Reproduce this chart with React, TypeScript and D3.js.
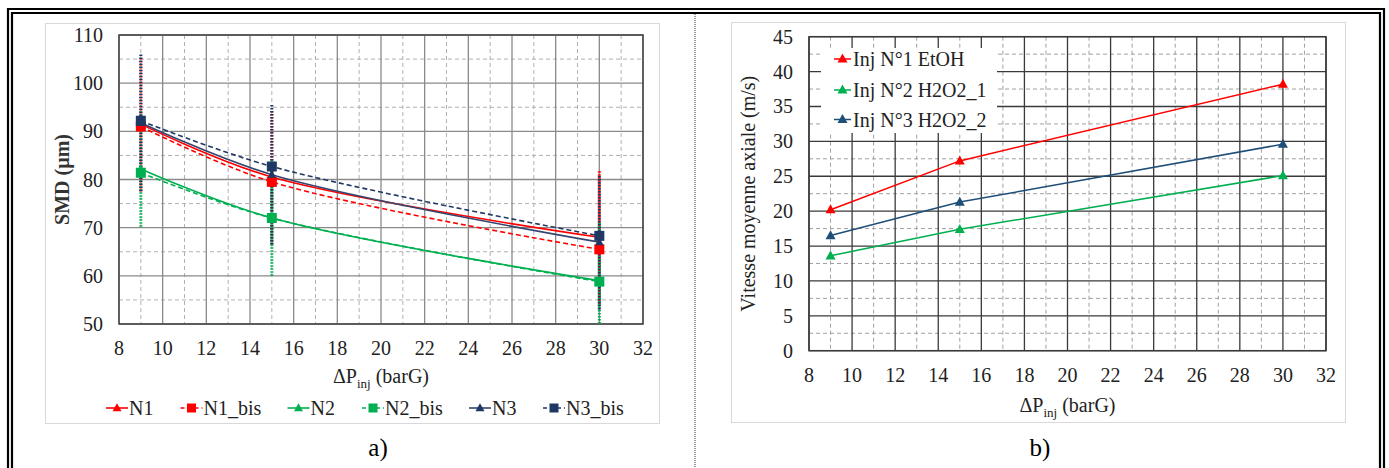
import React from "react";
import * as d3 from "d3";

// ---------- data ----------
const pressures = [9, 15, 30];
const xTicks = [8, 10, 12, 14, 16, 18, 20, 22, 24, 26, 28, 30, 32];
const xMinor = [9, 11, 13, 15, 17, 19, 21, 23, 25, 27, 29, 31];

// left chart (SMD)
const smdTicks = [50, 60, 70, 80, 90, 100, 110];
const smdMinor = [55, 65, 75, 85, 95, 105];
const n1 = [91.5, 80.5, 68.0];
const n1Bis = [91.0, 79.5, 65.5];
const n2 = [82.2, 72.0, 59.0];
const n2Bis = [81.4, 72.0, 58.8];
const n3 = [91.8, 81.0, 67.0];
const n3Bis = [92.2, 82.7, 68.3];
const n1Err = [14, 14, 14];
const n2Err = [12, 12, 12];
const n3Err = [14.2, 14.5, 14];

// right chart (velocity)
const velTicks = [0, 5, 10, 15, 20, 25, 30, 35, 40, 45];
const velMinor = [2.5, 7.5, 12.5, 17.5, 22.5, 27.5, 32.5, 37.5, 42.5];
const injEtOH = [20.2, 27.2, 38.2];
const injH2O2a = [13.6, 17.4, 25.1];
const injH2O2b = [16.5, 21.3, 29.6];

const RED = "#ff0000";
const GREEN = "#00b050";
const NAVY = "#1f3864";
const NAVY_LINE = "#34456f";
const BLUE = "#1f4e79";

const FONT = '"Liberation Serif", "DejaVu Serif", serif';
const TS: React.CSSProperties = { fontFamily: FONT };
const FS = 20;

type Series = {
  name: string;
  values: number[];
  color: string;
  lineColor?: string;
  dashed: boolean;
  marker: "tri" | "sq";
  err?: number[];
};

const leftSeries: Series[] = [
  { name: "N1", values: n1, color: RED, dashed: false, marker: "tri", err: n1Err },
  { name: "N1_bis", values: n1Bis, color: RED, dashed: true, marker: "sq" },
  { name: "N2", values: n2, color: GREEN, dashed: false, marker: "tri", err: n2Err },
  { name: "N2_bis", values: n2Bis, color: GREEN, dashed: true, marker: "sq" },
  { name: "N3", values: n3, color: NAVY, lineColor: NAVY_LINE, dashed: false, marker: "tri", err: n3Err },
  { name: "N3_bis", values: n3Bis, color: NAVY, dashed: true, marker: "sq" },
];

const rightSeries: Series[] = [
  { name: "Inj N°1 EtOH", values: injEtOH, color: RED, dashed: false, marker: "tri" },
  { name: "Inj N°2 H2O2_1", values: injH2O2a, color: GREEN, dashed: false, marker: "tri" },
  { name: "Inj N°3 H2O2_2", values: injH2O2b, color: BLUE, dashed: false, marker: "tri" },
];

function Marker({ x, y, kind, color, size }: { x: number; y: number; kind: string; color: string; size: number }) {
  if (kind === "sq") {
    return <rect x={x - size / 2} y={y - size / 2} width={size} height={size} fill={color} />;
  }
  const h = size * 0.9;
  return (
    <path
      d={`M${x},${y - h * 0.6} L${x + size / 2},${y + h * 0.4} L${x - size / 2},${y + h * 0.4} Z`}
      fill={color}
    />
  );
}

function XTitle({ x, y }: { x: number; y: number }) {
  return (
    <text x={x} y={y} textAnchor="middle" style={TS} fontSize={FS} fill="#222">
      ΔP
      <tspan fontSize={13} dy={5}>inj</tspan>
      <tspan dy={-5}> (barG)</tspan>
    </text>
  );
}

export default function App() {
  // ---------- left chart ----------
  const L = { left: 119, right: 643, top: 35, bottom: 324 };
  const lx = d3.scaleLinear().domain([8, 32]).range([L.left, L.right]);
  const ly = d3.scaleLinear().domain([50, 110]).range([L.bottom, L.top]);
  const smooth = d3
    .line<number>()
    .x((_, i) => lx(pressures[i]))
    .y((v) => ly(v))
    .curve(d3.curveCatmullRom.alpha(0.5));

  // ---------- right chart ----------
  const R = { left: 809, right: 1326, top: 36.7, bottom: 350.7 };
  const rx = d3.scaleLinear().domain([8, 32]).range([R.left, R.right]);
  const ry = d3.scaleLinear().domain([0, 45]).range([R.bottom, R.top]);
  const straight = d3
    .line<number>()
    .x((_, i) => rx(pressures[i]))
    .y((v) => ry(v));

  const legendLeftX = [117, 191.5, 298.5, 373, 480, 554];
  const legendRightY = [59, 90, 119.5];

  return (
    <svg
      width={1389}
      height={468}
      style={{ position: "absolute", left: 0, top: 0, background: "#fff", fontFamily: FONT }}
    >
      <defs>
        <clipPath id="clipL">
          <rect x={L.left} y={L.top} width={L.right - L.left} height={L.bottom - L.top} />
        </clipPath>
      </defs>
      <rect x={0} y={0} width={1389} height={468} fill="#fff" />

      {/* outer double frame */}
      <path d="M8,480 L8,9 L1384,9 L1384,480" fill="none" stroke="#000" strokeWidth={2.2} />
      <path d="M12,480 L12,13 L1380,13 L1380,480" fill="none" stroke="#000" strokeWidth={2.2} />
      <line x1={695} y1={14} x2={695} y2={468} stroke="#333" strokeWidth={1} strokeDasharray="1 1" />

      {/* chart area borders */}
      <rect x={45.5} y={23.5} width={614} height={400} fill="none" stroke="#d9d9d9" strokeWidth={1} />
      <rect x={731.5} y={22.5} width={614} height={400} fill="none" stroke="#d9d9d9" strokeWidth={1} />

      {/* ===== LEFT CHART ===== */}
      <g>
        {xMinor.map((t) => (
          <line key={"lxm" + t} x1={lx(t)} x2={lx(t)} y1={L.top} y2={L.bottom} stroke="#b0b0b0" strokeWidth={1} strokeDasharray="4 3" />
        ))}
        {smdMinor.map((t) => (
          <line key={"lym" + t} x1={L.left} x2={L.right} y1={ly(t)} y2={ly(t)} stroke="#b0b0b0" strokeWidth={1} strokeDasharray="4 3" />
        ))}
        {xTicks.map((t) => (
          <line key={"lx" + t} x1={lx(t)} x2={lx(t)} y1={L.top} y2={L.bottom} stroke="#8a8a8a" strokeWidth={1.3} />
        ))}
        {smdTicks.map((t) => (
          <line key={"ly" + t} x1={L.left} x2={L.right} y1={ly(t)} y2={ly(t)} stroke="#8a8a8a" strokeWidth={1.3} />
        ))}
        <rect x={L.left} y={L.top} width={L.right - L.left} height={L.bottom - L.top} fill="none" stroke="#444" strokeWidth={1.5} />

        {/* error bars */}
        <g clipPath="url(#clipL)">
          {leftSeries.map((s) =>
            s.err
              ? s.values.map((v, i) => (
                  <line
                    key={s.name + "e" + i}
                    x1={lx(pressures[i])}
                    x2={lx(pressures[i])}
                    y1={ly(v - s.err![i])}
                    y2={ly(v + s.err![i])}
                    stroke={s.color}
                    strokeWidth={3}
                    strokeDasharray="1.5 1.5"
                  />
                ))
              : null
          )}
        </g>

        {/* lines */}
        {leftSeries.map((s) => (
          <path
            key={s.name + "l"}
            d={smooth(s.values) || ""}
            fill="none"
            stroke={s.lineColor || s.color}
            strokeWidth={1.6}
            strokeDasharray={s.dashed ? "5 3" : undefined}
          />
        ))}
        {/* markers */}
        {leftSeries.map((s) =>
          s.values.map((v, i) => (
            <Marker key={s.name + "m" + i} x={lx(pressures[i])} y={ly(v)} kind={s.marker} color={s.color} size={s.marker === "sq" ? 10 : 8.5} />
          ))
        )}

        {/* axes labels */}
        {smdTicks.map((t) => (
          <text key={"lyl" + t} x={L.left - 16} y={ly(t)} textAnchor="end" dominantBaseline="central" style={TS} fontSize={FS} fill="#222">
            {t}
          </text>
        ))}
        {xTicks.map((t) => (
          <text key={"lxl" + t} x={lx(t)} y={L.bottom + 24} textAnchor="middle" dominantBaseline="central" style={TS} fontSize={FS} fill="#222">
            {t}
          </text>
        ))}
        <text
          transform={`translate(62,${(L.top + L.bottom) / 2}) rotate(-90)`}
          textAnchor="middle"
          dominantBaseline="central"
          style={TS}
          fontSize={FS}
          fontWeight="bold"
          fill="#333"
        >
          SMD (µm)
        </text>
        <XTitle x={(L.left + L.right) / 2} y={L.bottom + 59} />

        {/* legend */}
        {leftSeries.map((s, i) => {
          const cx = legendLeftX[i];
          return (
            <g key={s.name + "lg"}>
              <line x1={cx - 11} x2={cx + 11} y1={408} y2={408} stroke={s.lineColor || s.color} strokeWidth={1.6} strokeDasharray={s.dashed ? "4 3" : undefined} />
              <Marker x={cx} y={408} kind={s.marker} color={s.color} size={9} />
              <text x={cx + 12} y={408} dominantBaseline="central" style={TS} fontSize={FS} fill="#222">
                {s.name}
              </text>
            </g>
          );
        })}
        <text x={378} y={447} textAnchor="middle" dominantBaseline="central" style={TS} fontSize={25} fill="#000">
          a)
        </text>
      </g>

      {/* ===== RIGHT CHART ===== */}
      <g>
        {xMinor.map((t) => (
          <line key={"rxm" + t} x1={rx(t)} x2={rx(t)} y1={R.top} y2={R.bottom} stroke="#a0a0a0" strokeWidth={1} strokeDasharray="4 3" />
        ))}
        {velMinor.map((t) => (
          <line key={"rym" + t} x1={R.left} x2={R.right} y1={ry(t)} y2={ry(t)} stroke="#a0a0a0" strokeWidth={1} strokeDasharray="4 3" />
        ))}
        {xTicks.map((t) => (
          <line key={"rx" + t} x1={rx(t)} x2={rx(t)} y1={R.top} y2={R.bottom} stroke="#3a3a3a" strokeWidth={1.3} />
        ))}
        {velTicks.map((t) => (
          <line key={"ry" + t} x1={R.left} x2={R.right} y1={ry(t)} y2={ry(t)} stroke="#3a3a3a" strokeWidth={1.3} />
        ))}
        <rect x={R.left} y={R.top} width={R.right - R.left} height={R.bottom - R.top} fill="none" stroke="#3a3a3a" strokeWidth={1.5} />

        {/* legend box */}
        <rect x={821} y={48} width={176} height={85} fill="#fff" />

        {rightSeries.map((s) => (
          <path key={s.name + "l"} d={straight(s.values) || ""} fill="none" stroke={s.color} strokeWidth={1.5} />
        ))}
        {rightSeries.map((s) =>
          s.values.map((v, i) => (
            <Marker key={s.name + "m" + i} x={rx(pressures[i])} y={ry(v)} kind="tri" color={s.color} size={10} />
          ))
        )}

        {rightSeries.map((s, i) => (
          <g key={s.name + "lg"}>
            <line x1={834} x2={851} y1={legendRightY[i]} y2={legendRightY[i]} stroke={s.color} strokeWidth={1.5} />
            <Marker x={842.5} y={legendRightY[i]} kind="tri" color={s.color} size={10} />
            <text x={853} y={legendRightY[i]} dominantBaseline="central" style={TS} fontSize={FS} fill="#222">
              {s.name}
            </text>
          </g>
        ))}

        {velTicks.map((t) => (
          <text key={"ryl" + t} x={R.left - 16} y={ry(t)} textAnchor="end" dominantBaseline="central" style={TS} fontSize={FS} fill="#222">
            {t}
          </text>
        ))}
        {xTicks.map((t) => (
          <text key={"rxl" + t} x={rx(t)} y={R.bottom + 24} textAnchor="middle" dominantBaseline="central" style={TS} fontSize={FS} fill="#222">
            {t}
          </text>
        ))}
        <text
          transform={`translate(748,${(R.top + R.bottom) / 2}) rotate(-90)`}
          textAnchor="middle"
          dominantBaseline="central"
          style={TS}
          fontSize={FS}
          fill="#222"
        >
          Vitesse moyenne axiale (m/s)
        </text>
        <XTitle x={(R.left + R.right) / 2} y={R.bottom + 61} />
        <text x={1040} y={447} textAnchor="middle" dominantBaseline="central" style={TS} fontSize={25} fill="#000">
          b)
        </text>
      </g>
    </svg>
  );
}
